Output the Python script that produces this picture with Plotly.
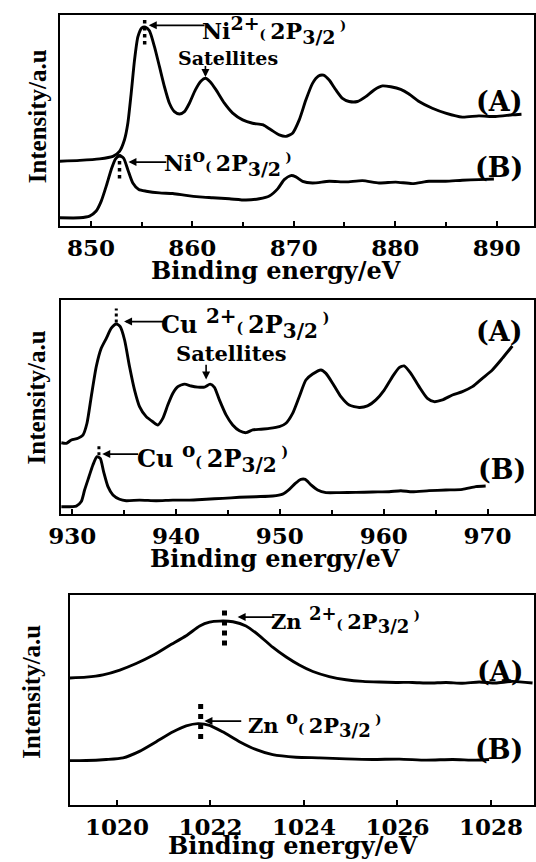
import plotly.graph_objects as go

# ---------------- data ----------------
# Panel 1: Ni 2p
ni_A_ev = [846.95, 848.9, 850.85, 852.17, 852.82, 853.31, 853.64, 853.97, 854.30, 854.63, 855.02, 855.38,
           855.77, 856.27, 856.76, 857.25, 857.74, 858.23, 858.73, 859.22, 859.71, 860.30, 860.86, 861.29,
           861.75, 862.34, 863.16, 863.98, 864.96, 865.94, 866.93, 867.75, 868.57, 869.23, 869.88, 870.54,
           871.19, 871.85, 872.44, 872.93, 873.49, 874.15, 874.80, 875.46, 876.28, 877.10, 877.92, 878.74,
           879.56, 880.54, 881.36, 882.35, 883.66, 884.97, 886.61, 888.25, 889.89, 891.54, 892.45]
ni_A_int = [30.7, 31.1, 31.8, 33.0, 35.4, 40.9, 48.7, 62.9, 78.6, 89.6, 93.9, 94.3,
            92.5, 84.9, 75.5, 66.0, 58.2, 54.2, 53.1, 54.2, 58.2, 64.5, 68.7, 70.0,
            68.4, 64.5, 58.2, 53.5, 50.3, 48.7, 48.0, 45.6, 43.2, 42.5, 44.0, 50.3,
            59.7, 67.6, 71.1, 71.5, 69.2, 64.5, 60.5, 59.0, 59.0, 61.3, 64.5, 66.4,
            66.0, 64.8, 62.6, 59.0, 55.8, 53.5, 51.6, 52.2, 51.9, 52.7, 53.0]
ni_B_ev = [846.95, 848.9, 849.87, 850.52, 851.02, 851.51, 852.0, 852.43, 852.82, 853.22, 853.64, 854.13,
           854.72, 855.45, 856.76, 858.07, 859.38, 860.70, 862.01, 863.65, 865.29, 866.60, 867.59, 868.41,
           869.06, 869.72, 870.21, 870.87, 871.85, 873.49, 875.13, 876.77, 878.41, 880.05, 881.69, 883.33,
           884.97, 886.61, 888.25, 889.73]
ni_B_int = [3.9, 3.9, 4.7, 7.1, 11.8, 18.9, 26.7, 31.8, 33.3, 32.2, 26.7, 20.4,
            17.3, 16.5, 15.7, 15.4, 14.5, 13.8, 13.4, 12.9, 12.3, 12.9, 14.2, 17.6,
            22.0, 23.9, 23.3, 21.2, 20.4, 21.2, 20.9, 21.5, 20.4, 20.8, 20.1, 21.2,
            21.2, 21.7, 22.0, 22.3]

# Panel 2: Cu 2p
cu_A_ev = [928.96, 929.44, 929.92, 930.56, 931.04, 931.43, 931.84, 932.32, 932.80, 933.29, 933.77, 934.25,
           934.63, 935.05, 935.53, 936.01, 936.49, 937.13, 937.77, 938.25, 938.73, 939.21, 939.70, 940.18,
           940.82, 941.46, 942.10, 942.74, 943.29, 943.70, 944.18, 944.82, 945.46, 946.11, 946.75, 947.39,
           948.19, 948.99, 949.95, 950.59, 951.23, 951.87, 952.51, 953.16, 953.96, 954.44, 955.08, 955.88,
           956.68, 957.64, 958.44, 959.25, 960.05, 960.85, 961.49, 961.97, 962.61, 963.41, 964.21, 964.86,
           965.66, 966.62, 967.58, 968.54, 969.50, 970.46, 971.42, 972.39]
cu_A_int = [33.3, 33.0, 34.6, 35.4, 36.9, 42.4, 54.8, 68.8, 77.4, 82.1, 86.8, 88.8,
            87.5, 81.3, 68.8, 57.9, 50.2, 45.5, 43.1, 41.6, 44.7, 50.9, 56.4, 59.5,
            60.7, 59.8, 59.3, 59.3, 60.7, 59.2, 53.3, 46.3, 41.6, 38.9, 38.0, 39.3,
            39.6, 40.0, 40.8, 42.4, 47.0, 54.8, 62.6, 65.4, 67.3, 65.7, 61.1, 54.8,
            50.9, 49.8, 50.5, 53.3, 57.9, 64.2, 68.4, 69.2, 65.7, 59.5, 54.0, 52.5,
            53.3, 55.6, 57.2, 59.5, 63.4, 67.3, 72.7, 78.5]
cu_B_ev = [928.96, 930.40, 930.88, 931.20, 931.62, 932.0, 932.39, 932.71, 933.03, 933.45, 933.93, 934.57,
           935.21, 936.49, 938.09, 939.70, 941.30, 942.90, 944.50, 946.11, 947.71, 949.31, 950.27, 950.91,
           951.49, 952.03, 952.45, 953.0, 953.64, 954.44, 955.72, 957.32, 958.93, 960.53, 961.65, 962.74,
           964.37, 965.98, 967.58, 968.86, 969.82]
cu_B_int = [3.4, 3.7, 5.8, 11.2, 17.4, 22.9, 26.8, 26.0, 19.8, 12.8, 8.9, 6.9,
            6.2, 6.5, 6.2, 6.5, 6.5, 6.9, 7.3, 7.8, 8.1, 8.4, 9.3, 11.5,
            14.3, 16.2, 16.2, 13.6, 11.2, 10.0, 10.0, 10.1, 10.3, 10.4, 10.9, 10.4,
            10.9, 11.2, 11.5, 12.8, 13.1]

# Panel 3: Zn 2p
zn_A_ev = [1018.99, 1019.34, 1019.70, 1020.06, 1020.41, 1020.77, 1021.12, 1021.48, 1021.77, 1021.98,
           1022.19, 1022.48, 1022.76, 1023.05, 1023.33, 1023.62, 1023.90, 1024.19, 1024.54, 1024.90,
           1025.26, 1025.61, 1025.97, 1026.32, 1026.68, 1027.04, 1027.39, 1027.75, 1028.10, 1028.46, 1028.89]
zn_A_int = [60.5, 60.9, 62.0, 64.3, 67.4, 71.3, 76.0, 80.6, 85.3, 87.1,
            87.6, 87.3, 85.3, 80.6, 75.2, 70.5, 66.7, 63.6, 61.2, 59.7,
            58.9, 58.6, 58.4, 58.4, 58.1, 58.4, 58.0, 58.6, 58.1, 58.9, 58.1]
zn_B_ev = [1018.95, 1019.34, 1019.77, 1020.13, 1020.48, 1020.84, 1021.20, 1021.48, 1021.73, 1021.98,
           1022.26, 1022.62, 1022.98, 1023.33, 1023.83, 1024.33, 1024.90, 1025.47, 1026.04, 1026.61,
           1027.18, 1027.68, 1027.96]
zn_B_int = [21.2, 21.2, 21.7, 22.5, 25.6, 30.2, 34.9, 37.7, 38.8, 38.0,
            34.9, 30.2, 26.4, 24.0, 22.8, 22.5, 22.0, 21.7, 21.9, 21.4,
            21.7, 21.4, 21.7]

# peak positions (eV) of the marked lines
ni2_peak, ni0_peak = 855.3, 852.82
cu2_peak, cu0_peak = 934.25, 932.58
zn2_peak, zn0_peak = 1022.30, 1021.79
cu_sat_peak, ni_sat_peak = 942.9, 861.29

x_title = "Binding energy/eV"
y_title = "Intensity/a.u"

# ---------------- figure ----------------
SERIF_W = "DejaVu Serif"
SERIF_N = "Liberation Serif"
LW = 2.9

fig = go.Figure()

def curve(x, y, xa, ya):
    fig.add_trace(go.Scatter(x=x, y=y, mode="lines", xaxis=xa, yaxis=ya,
                             line=dict(color="black", width=LW, shape="spline", smoothing=0.6),
                             showlegend=False, hoverinfo="skip"))

def dots(x, y0, y1, xa, ya, w):
    fig.add_trace(go.Scatter(x=[x, x], y=[y0, y1], mode="lines", xaxis=xa, yaxis=ya,
                             line=dict(color="black", width=w, dash="dot"),
                             showlegend=False, hoverinfo="skip"))

curve(ni_A_ev, ni_A_int, "x", "y")
curve(ni_B_ev, ni_B_int, "x", "y")
curve(cu_A_ev, cu_A_int, "x2", "y2")
curve(cu_B_ev, cu_B_int, "x2", "y2")
curve(zn_A_ev, zn_A_int, "x3", "y3")
curve(zn_B_ev, zn_B_int, "x3", "y3")

dots(ni2_peak, 86, 99, "x", "y", 3.5)
dots(ni0_peak, 22.5, 34, "x", "y", 3.5)
dots(cu2_peak, 89.5, 96, "x2", "y2", 3)
dots(cu0_peak, 27.5, 32, "x2", "y2", 3)
dots(zn2_peak, 76, 94, "x3", "y3", 5)
dots(zn0_peak, 31.5, 50, "x3", "y3", 5)


def label(el, charge, sup, paren, gap=""):
    return (f"{el}{gap}<sup><span style='font-size:{sup}px'>{charge}</span></sup>"
            f"<span style='font-size:{paren}px'>( </span>2P"
            f"<sub><span style='font-size:{sup}px'>3/2</span></sub>"
            f"<sup><span style='font-size:{paren}px'> )</span></sup>")

ann = []

def text(x, y, xr, yr, t, size, anchor="left", family=SERIF_W, angle=0, xshift=0, yanchor="middle"):
    ann.append(dict(x=x, y=y, xref=xr, yref=yr, text=t, showarrow=False, xanchor=anchor,
                    yanchor=yanchor, textangle=angle, xshift=xshift,
                    font=dict(family=family, size=size, color="black", weight="bold")))

def arrow(hx, hy, tx, ty, xr, yr):
    ann.append(dict(x=hx, y=hy, ax=tx, ay=ty, xref=xr, yref=yr, axref=xr, ayref=yr, text="",
                    showarrow=True, arrowhead=2, arrowsize=1, arrowwidth=1.6, arrowcolor="black"))

# Panel 1
arrow(855.7, 95.1, 861.35, 95.1, "x", "y")
text(861.6, 93, "x", "y", label("Ni", "2+", 19, 13), 22, xshift=-9)
text(863.5, 79.4, "x", "y", "Satellites", 19, "center")
arrow(ni_sat_peak, 70.6, ni_sat_peak, 76.5, "x", "y")
arrow(853.7, 30.3, 857.58, 30.3, "x", "y")
text(857.9, 30.3, "x", "y", label("Ni", "o", 19, 13), 22, xshift=-9)
text(890.3, 59.0, "x", "y", "(A)", 27, "center")
text(890.2, 27.5, "x", "y", "(B)", 27, "center")

# Panel 2
arrow(935.0, 89.9, 939.1, 89.9, "x2", "y2")
text(939.3, 89, "x2", "y2", label("Cu", "2+", 20, 14, " "), 24, xshift=-10)
text(945.3, 75.1, "x2", "y2", "Satellites", 21, "center")
arrow(cu_sat_peak, 62.9, cu_sat_peak, 70.4, "x2", "y2")
arrow(932.9, 28.0, 936.5, 28.0, "x2", "y2")
text(937.0, 26.5, "x2", "y2", label("Cu", "o", 20, 14, " "), 24, xshift=-10)
text(971.2, 85.2, "x2", "y2", "(A)", 27, "center")
text(971.4, 20.6, "x2", "y2", "(B)", 27, "center")

# Panel 3
arrow(1022.58, 89.5, 1023.40, 89.5, "x3", "y3")
text(1023.45, 88, "x3", "y3", label("Zn", "2+", 18, 13, " "), 21, xshift=-9)
arrow(1021.87, 40.0, 1022.69, 40.0, "x3", "y3")
text(1022.96, 38.5, "x3", "y3", label("Zn", "o", 18, 13, " "), 21, xshift=-9)
text(1028.21, 63.6, "x3", "y3", "(A)", 27, "center")
text(1028.18, 26.4, "x3", "y3", "(B)", 27, "center")

# axis titles
text(0.5037, 0.686, "paper", "paper", x_title, 24, "center")
text(0.502, 0.352, "paper", "paper", x_title, 24, "center")
text(0.537, 0.0, "paper", "paper", x_title, 24, "center", yanchor="bottom")
for (xp, yp) in [(0.0466, 0.8654), (0.0448, 0.5394), (0.0354, 0.198)]:
    text(xp, yp, "paper", "paper", y_title, 25, "center", SERIF_N, -90)

tickfont = dict(family=SERIF_W, size=23, color="black", weight="bold")

def xaxis(dom, rng, anchor, dtick, minor):
    d = dict(domain=dom, range=rng, anchor=anchor, showline=True, mirror=True, linecolor="black",
             linewidth=2, ticks="inside", ticklen=5, tickwidth=1.5, tickcolor="black",
             tick0=0, dtick=dtick, tickfont=tickfont, showgrid=False, zeroline=False)
    if minor:
        d["minor"] = dict(dtick=minor, ticks="inside", ticklen=4, tickwidth=1.5,
                          tickcolor="black", showgrid=False)
    return d

def yaxis(dom, anchor):
    return dict(domain=dom, range=[0, 100], anchor=anchor, showline=True, mirror=True,
                linecolor="black", linewidth=2, showticklabels=False, ticks="",
                showgrid=False, zeroline=False)

fig.update_layout(
    width=536, height=862, margin=dict(l=0, r=0, t=0, b=0),
    paper_bgcolor="white", plot_bgcolor="white",
    xaxis=xaxis([0.0896, 0.998], [846.93, 893.68], "y", 10, 5),
    yaxis=yaxis([0.7378, 0.9826], "x"),
    xaxis2=xaxis([0.092, 0.998], [928.93, 974.47], "y2", 10, 5),
    yaxis2=yaxis([0.4037, 0.6520], "x2"),
    xaxis3=xaxis([0.1088, 0.998], [1018.99, 1028.92], "y3", 2, None),
    yaxis3=yaxis([0.066, 0.3097], "x3"),
    annotations=ann,
)

fig.write_html("out.html")
